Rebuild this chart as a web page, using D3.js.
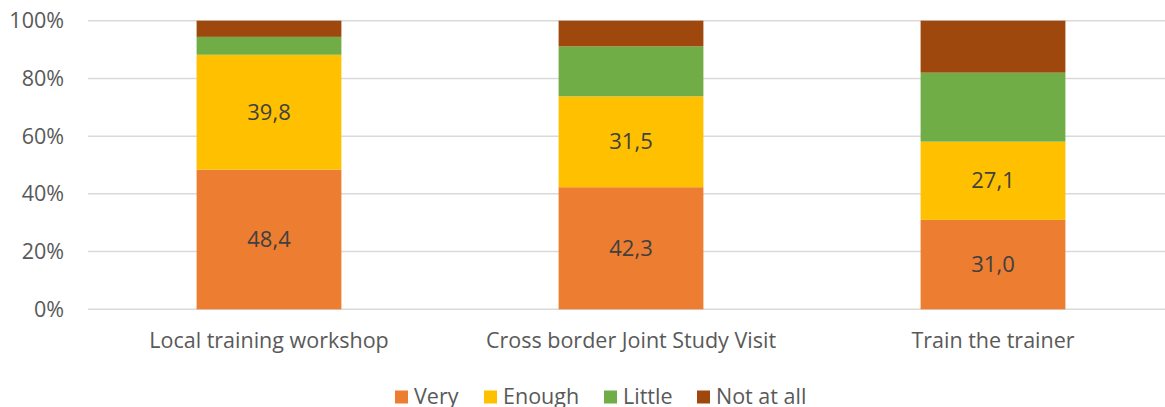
<!DOCTYPE html>
<html>
<head>
<meta charset="utf-8">
<script src="https://cdn.jsdelivr.net/npm/d3@7"></script>
<style>
  html, body { margin: 0; padding: 0; background: #fff; }
  svg { display: block; font-family: "Open Sans", Lato, sans-serif; }
</style>
</head>
<body>
<svg id="chart" width="1165" height="407"></svg>
<script>
// Categories and the four response series (percent of respondents)
const categories = ["Local training workshop", "Cross border Joint Study Visit", "Train the trainer"];
const seriesNames = ["Very", "Enough", "Little", "Not at all"];
const very     = [48.4, 42.3, 31.0];
const enough   = [39.8, 31.5, 27.1];
const little   = [6.2, 17.3, 23.9];
const notAtAll = [5.6, 8.9, 18.0];
const yTicks = [0, 20, 40, 60, 80, 100];
const labelledSeries = ["Very", "Enough"];

const colors = { "Very": "#ED7D31", "Enough": "#FFC000", "Little": "#70AD47", "Not at all": "#9E480E" };

const rows = categories.map((c, i) => ({
  category: c,
  "Very": very[i], "Enough": enough[i], "Little": little[i], "Not at all": notAtAll[i]
}));
const stacked = d3.stack().keys(seriesNames)(rows);

const svg = d3.select("#chart");
const width = 1165;
const fontSize = "21.5px";

const x = d3.scaleBand().domain(categories).range([88, 1174]).paddingInner(0.6).paddingOuter(0.3);
const y = d3.scaleLinear().domain([0, 100]).range([309.3, 20.7]);

// Horizontal gridlines
svg.append("g").selectAll("line").data(yTicks).join("line")
  .attr("x1", 88).attr("x2", width)
  .attr("y1", d => y(d)).attr("y2", d => y(d))
  .attr("stroke", "#d9d9d9").attr("stroke-width", 1.5);

// Y axis labels
const yAxis = d3.axisLeft(y).tickValues(yTicks).tickFormat(d => d + "%").tickSize(0).tickPadding(0);
const gy = svg.append("g").attr("transform", "translate(64,0)").call(yAxis);
gy.select(".domain").remove();
gy.selectAll("text").attr("fill", "#595959").style("font-size", fontSize)
  .style("font-family", "'Open Sans', Lato, sans-serif");

// Stacked bars
const layers = svg.append("g").selectAll("g").data(stacked).join("g")
  .attr("fill", d => colors[d.key]);
layers.selectAll("rect").data(d => d).join("rect")
  .attr("x", d => x(d.data.category))
  .attr("width", x.bandwidth())
  .attr("y", d => y(d[1]))
  .attr("height", d => y(d[0]) - y(d[1]));

// Value labels on the Very and Enough segments
const fmt = v => v.toFixed(1).replace(".", ",");
svg.append("g").selectAll("g").data(stacked.filter(s => labelledSeries.includes(s.key))).join("g")
  .selectAll("text").data(d => d).join("text")
  .attr("x", d => x(d.data.category) + x.bandwidth() / 2)
  .attr("y", d => (y(d[0]) + y(d[1])) / 2)
  .attr("dy", "0.35em")
  .attr("text-anchor", "middle")
  .attr("fill", "#404040")
  .style("font-size", "22px")
  .text(d => fmt(d[1] - d[0]));

// Category axis labels
const xAxis = d3.axisBottom(x).tickSize(0).tickPadding(0);
const gx = svg.append("g").attr("transform", "translate(0,333)").call(xAxis);
gx.select(".domain").remove();
gx.selectAll("text").attr("fill", "#595959").style("font-size", fontSize)
  .style("font-family", "'Open Sans', Lato, sans-serif");

// Legend
const legendItems = [
  { key: "Very", x: 395 },
  { key: "Enough", x: 484 },
  { key: "Little", x: 604 },
  { key: "Not at all", x: 697 }
];
const lg = svg.append("g").selectAll("g").data(legendItems).join("g")
  .attr("transform", d => `translate(${d.x},397)`);
lg.append("rect").attr("x", 0).attr("y", -6.5).attr("width", 13).attr("height", 13)
  .attr("fill", d => colors[d.key]);
lg.append("text").attr("x", 19).attr("dy", "0.33em")
  .attr("fill", "#595959").style("font-size", fontSize)
  .text(d => d.key);
</script>
</body>
</html>
